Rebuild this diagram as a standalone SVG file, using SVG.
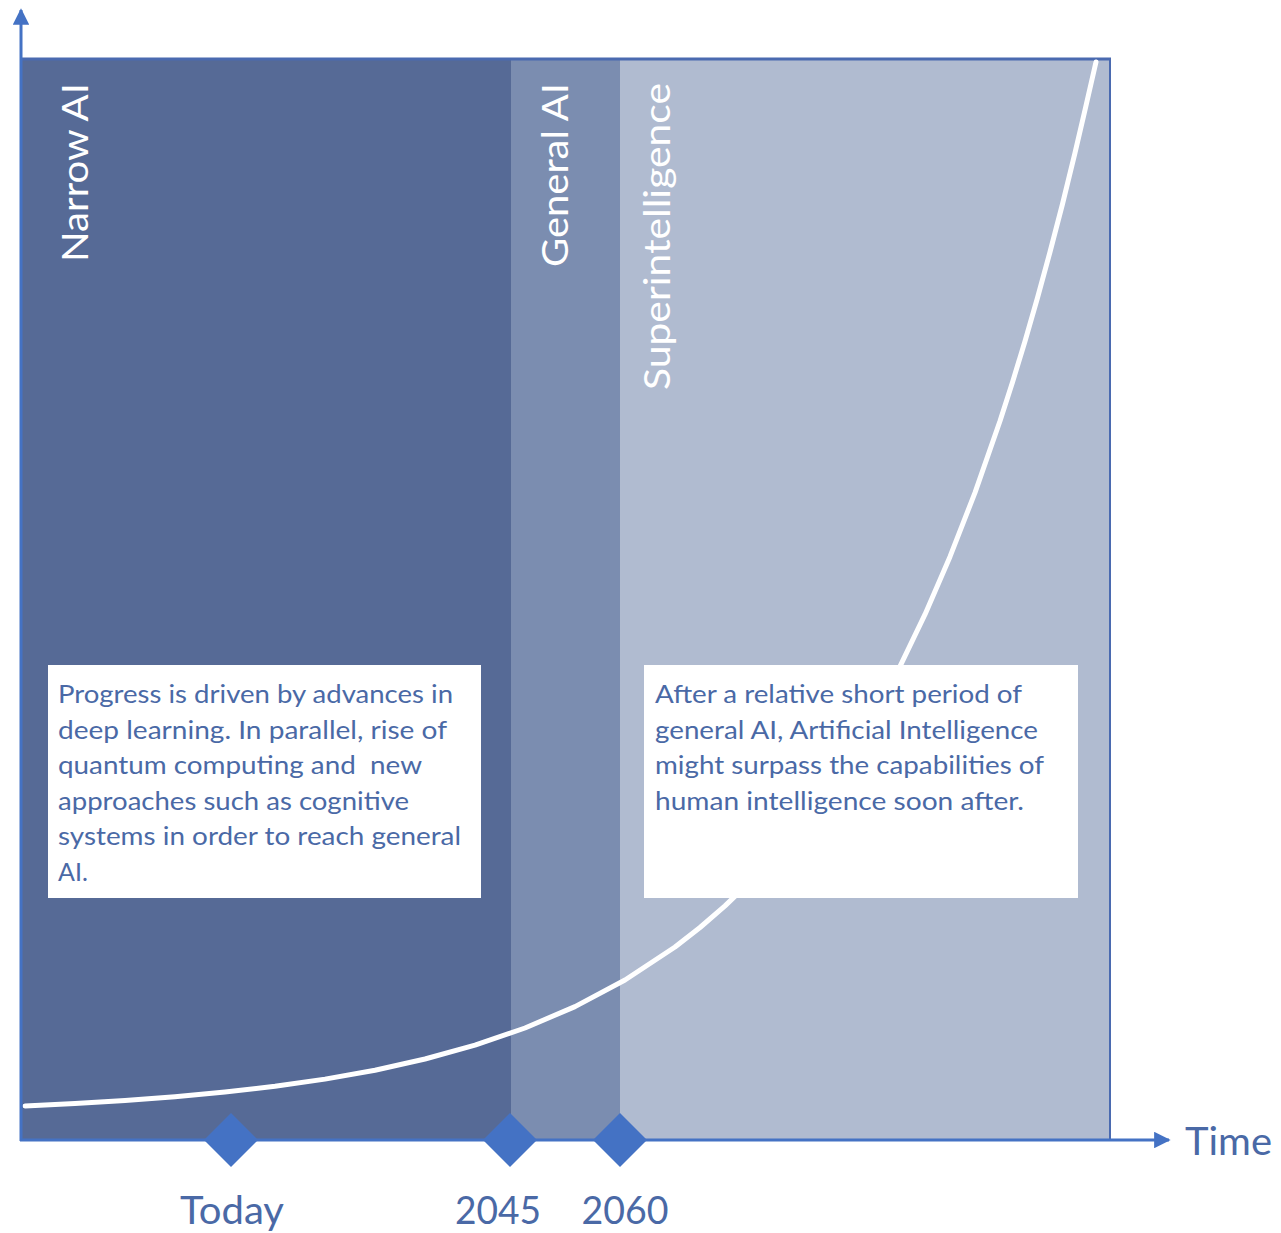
<svg xmlns="http://www.w3.org/2000/svg" width="1281" height="1233" viewBox="0 0 1281 1233">
  <style>
    .band-label { font-family: Lato, "Open Sans", sans-serif; font-size: 36px; fill: #ffffff; }
    .note { font-family: Lato, "Open Sans", sans-serif; font-size: 25px; fill: #4a69a6; }
    .tick-label { font-family: Lato, "Open Sans", sans-serif; font-size: 38px; fill: #4a69a6; }
    .axis { stroke: #4472c4; stroke-width: 3; fill: none; }
    .marker-diamond { fill: #4472c4; }
    .note-box { fill: #ffffff; }
  </style>
  <defs>
    <marker id="arrow" viewBox="0 0 10 10" refX="9" refY="5" markerWidth="6.5" markerHeight="5.5" orient="auto" markerUnits="strokeWidth">
      <path d="M0,0 L10,5 L0,10 z" fill="#4472c4"/>
    </marker>
  </defs>

  <rect width="1281" height="1233" fill="#ffffff"/>

  <!-- Era bands -->
  <g id="narrow-ai">
    <rect x="21" y="58" width="490" height="1082" fill="#566a96"/>
    <text class="band-label" transform="translate(88,83) rotate(-90)" text-anchor="end" textLength="179" lengthAdjust="spacingAndGlyphs">Narrow AI</text>
  </g>
  <g id="general-ai">
    <rect x="511" y="60" width="109" height="1080" fill="#7b8db0"/>
    <text class="band-label" transform="translate(568,83) rotate(-90)" text-anchor="end" textLength="184" lengthAdjust="spacingAndGlyphs">General AI</text>
  </g>
  <g id="superintelligence">
    <rect x="620" y="60" width="490" height="1080" fill="#b0bbd0"/>
    <text class="band-label" transform="translate(670,83) rotate(-90)" text-anchor="end" textLength="307" lengthAdjust="spacingAndGlyphs">Superintelligence</text>
  </g>

  <!-- Frame edges -->
  <g id="frame">
    <line x1="21" y1="59" x2="1111" y2="59" stroke="#4a6ab0" stroke-width="3"/>
    <line x1="1110" y1="58" x2="1110" y2="1140" stroke="#4a6ab0" stroke-width="2"/>
  </g>

  <!-- Growth curve -->
  <g id="growth-curve">
    <path d="M25,1106 L75,1103.6 L125,1100.5 L175,1096.8 L225,1092.1 L275,1086.3 L325,1079.1 L375,1070.2 L425,1059 L475,1045.2 L525,1028 L575,1006.6 L625,980 L675,947 L700,927.5 L725,905.9 L750,881.7 L775,854.8 L800,824.8 L825,791.4 L850,754.1 L875,712.5 L900,666.3 L925,614.4 L950,556.7 L975,492.6 L1000,421 L1012.5,382.2 L1025,341.2 L1037.5,297.8 L1050,252 L1062.5,204 L1075,152.9 L1085,110 L1096,62" fill="none" stroke="#ffffff" stroke-width="5" stroke-linejoin="round" stroke-linecap="round"/>
  </g>

  <!-- Notes -->
  <g id="note-narrow">
    <rect class="note-box" x="48" y="665" width="433" height="233"/>
    <text class="note" x="58" y="703" textLength="395" lengthAdjust="spacingAndGlyphs">Progress is driven by advances in</text>
    <text class="note" x="58" y="739" textLength="389" lengthAdjust="spacingAndGlyphs">deep learning. In parallel, rise of</text>
    <text class="note" x="58" y="774" textLength="364" lengthAdjust="spacingAndGlyphs" xml:space="preserve">quantum computing and  new</text>
    <text class="note" x="58" y="810" textLength="351" lengthAdjust="spacingAndGlyphs">approaches such as cognitive</text>
    <text class="note" x="58" y="845" textLength="403" lengthAdjust="spacingAndGlyphs">systems in order to reach general</text>
    <text class="note" x="58" y="881">AI.</text>
  </g>
  <g id="note-super">
    <rect class="note-box" x="644" y="665" width="434" height="233"/>
    <text class="note" x="655" y="703" textLength="367" lengthAdjust="spacingAndGlyphs">After a relative short period of</text>
    <text class="note" x="655" y="739" textLength="383" lengthAdjust="spacingAndGlyphs">general AI, Artificial Intelligence</text>
    <text class="note" x="655" y="774" textLength="389" lengthAdjust="spacingAndGlyphs">might surpass the capabilities of</text>
    <text class="note" x="655" y="810" textLength="369" lengthAdjust="spacingAndGlyphs">human intelligence soon after.</text>
  </g>

  <!-- Axes -->
  <g id="axes">
    <line class="axis" x1="21" y1="1141" x2="21" y2="10" marker-end="url(#arrow)"/>
    <line class="axis" x1="20" y1="1140" x2="1169" y2="1140" marker-end="url(#arrow)"/>
    <text class="tick-label" x="1185" y="1155" textLength="87" lengthAdjust="spacingAndGlyphs">Time</text>
  </g>

  <!-- Milestones -->
  <g id="milestone-today">
    <path class="marker-diamond" d="M231,1113 L258,1140 L231,1167 L204,1140 z"/>
    <text class="tick-label" x="232" y="1224" text-anchor="middle" textLength="104" lengthAdjust="spacingAndGlyphs">Today</text>
  </g>
  <g id="milestone-2045">
    <path class="marker-diamond" d="M510,1113 L537,1140 L510,1167 L483,1140 z"/>
    <text class="tick-label" x="498" y="1224" text-anchor="middle" textLength="86" lengthAdjust="spacingAndGlyphs">2045</text>
  </g>
  <g id="milestone-2060">
    <path class="marker-diamond" d="M620,1113 L647,1140 L620,1167 L593,1140 z"/>
    <text class="tick-label" x="625" y="1224" text-anchor="middle" textLength="87" lengthAdjust="spacingAndGlyphs">2060</text>
  </g>
</svg>
